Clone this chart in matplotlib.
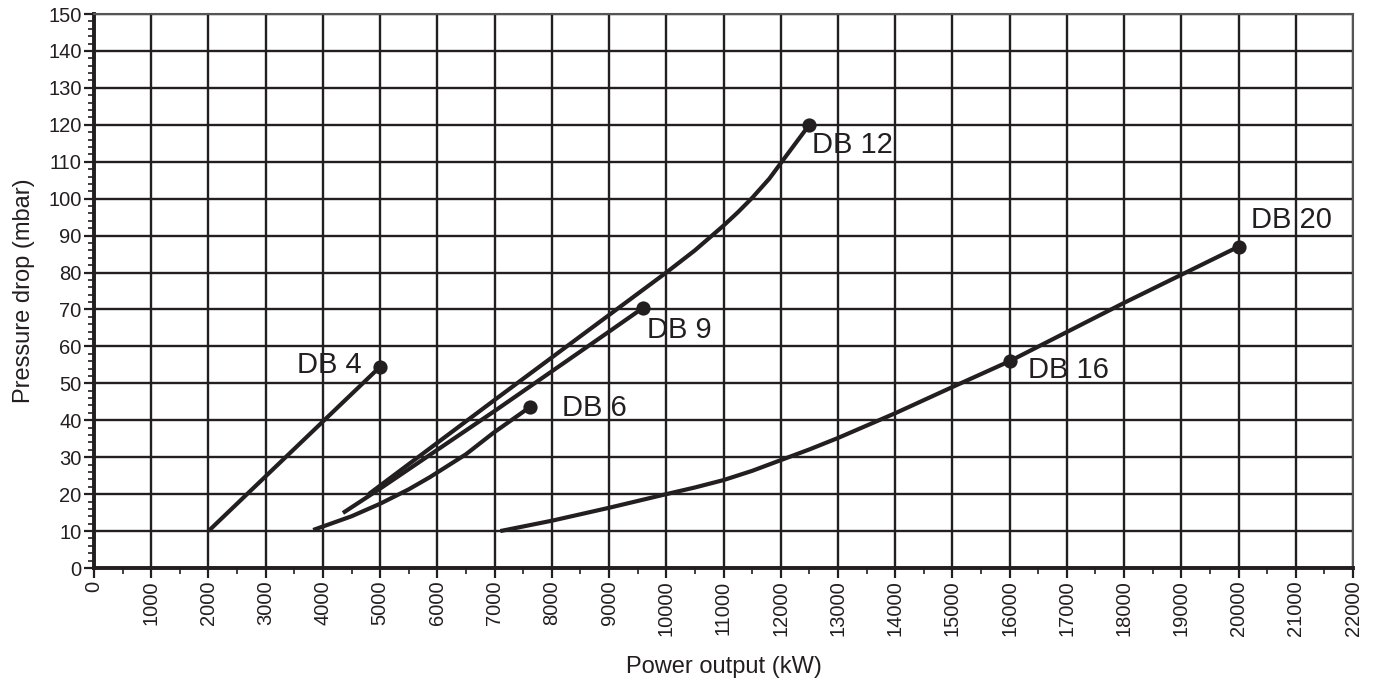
import matplotlib
matplotlib.use("Agg")
import matplotlib.pyplot as plt
from matplotlib.ticker import MultipleLocator

# Data (power output kW, pressure drop mbar)
db4_x = [2000, 5000]
db4_y = [10, 54.5]

db6_x = [3830, 4500, 5000, 5500, 5870, 6500, 6980, 7620]
db6_y = [10.3, 14.0, 17.4, 21.3, 24.6, 30.8, 36.6, 43.6]

db9_x = [4350, 5000, 7000, 9000, 9600]
db9_y = [14.9, 21.5, 42.5, 64.0, 70.5]

db12_x = [4800, 7000, 9000, 10000, 10500, 11000, 11250, 11500, 11800, 12000, 12250, 12500]
db12_y = [20.0, 45.5, 68.5, 80.0, 86.0, 92.7, 96.3, 100.2, 105.4, 109.6, 114.8, 120.0]

db16_x = [7100, 8000, 9000, 10000, 10500, 11000, 11500, 12000, 12500, 13000, 14000, 15000, 16000]
db16_y = [10.0, 12.8, 16.3, 20.0, 21.8, 23.8, 26.3, 29.2, 32.1, 35.2, 41.9, 49.0, 56.0]

db20_x = [16000, 18000, 20000]
db20_y = [56.0, 71.8, 87.0]

labels = ["DB 4", "DB 6", "DB 9", "DB 12", "DB 16", "DB 20"]
label_pos = [(4683, 55.0), (8178, 43.3), (9663, 64.4), (12546, 114.5), (16320, 53.6), (20217, 94.2)]
label_ha = ["right", "left", "left", "left", "left", "left"]

x_ticks = list(range(0, 22001, 1000))
y_ticks = list(range(0, 151, 10))

plt.rcParams['font.family'] = ['Liberation Sans', 'DejaVu Sans']

fig = plt.figure(figsize=(13.75, 6.81), dpi=100)
ax = fig.add_axes([94/1375, 1-568/681, (1353-94)/1375, (568-14)/681])

col = '#231f20'
ax.set_xlim(0, 22000)
ax.set_ylim(0, 150)
ax.set_xticks(x_ticks)
ax.set_xticklabels([str(v) for v in x_ticks], rotation=90, fontsize=14.5)
ax.set_yticks(y_ticks)
ax.set_yticklabels([str(v) for v in y_ticks], fontsize=14.5)
ax.xaxis.set_minor_locator(MultipleLocator(500))
ax.yaxis.set_minor_locator(MultipleLocator(2))
ax.tick_params(axis='both', which='major', direction='out', length=7, width=1.6, color=col, labelcolor=col, pad=2)
ax.tick_params(axis='both', which='minor', direction='out', length=4, width=1.2, color=col)
ax.grid(True, which='major', color=col, linewidth=1.7)
ax.set_axisbelow(True)
for s in ['top', 'right']:
    ax.spines[s].set_linewidth(1.5)
    ax.spines[s].set_color('#555555')
for s in ['left', 'bottom']:
    ax.spines[s].set_linewidth(2.8)
    ax.spines[s].set_color(col)

lw = 3.0
for xs, ys in [(db4_x, db4_y), (db6_x, db6_y), (db9_x, db9_y), (db12_x, db12_y), (db16_x, db16_y), (db20_x, db20_y)]:
    ax.plot(xs, ys, color=col, linewidth=lw, solid_capstyle='butt', solid_joinstyle='round', zorder=3)

ends = [(db4_x[-1], db4_y[-1]), (db6_x[-1], db6_y[-1]), (db9_x[-1], db9_y[-1]),
        (db12_x[-1], db12_y[-1]), (db16_x[-1], db16_y[-1]), (db20_x[-1], db20_y[-1])]
ax.scatter([e[0] for e in ends], [e[1] for e in ends], s=105, color=col, zorder=4, linewidths=0)

for lab, (lx, ly), ha in zip(labels, label_pos, label_ha):
    ax.text(lx, ly, lab, fontsize=21, color=col, ha=ha, va='center', zorder=5)

ax.set_xlabel("Power output (kW)", fontsize=17, color=col, labelpad=14)
ax.set_ylabel("Pressure drop (mbar)", fontsize=17, color=col, labelpad=9)

fig.savefig("out.png", dpi=100)
